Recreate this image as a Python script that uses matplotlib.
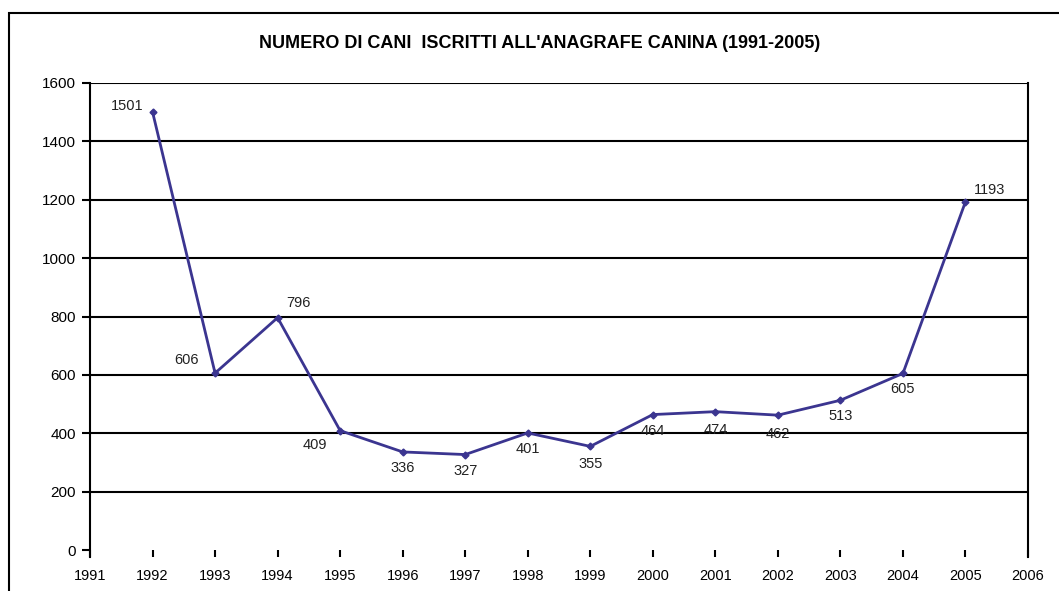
import matplotlib
matplotlib.use("Agg")
import matplotlib.pyplot as plt
from matplotlib.patches import Rectangle

plt.rcParams['font.family'] = ['Liberation Sans', 'DejaVu Sans']

years = [1992, 1993, 1994, 1995, 1996, 1997, 1998, 1999, 2000, 2001, 2002, 2003, 2004, 2005]
dogs = [1501, 606, 796, 409, 336, 327, 401, 355, 464, 474, 462, 513, 605, 1193]
# label offsets in pixels (dx, dy) relative to each point
label_offsets = [(-25, 6), (-29, 13), (21, 15), (-25, -14), (0, -16), (0, -16), (0, -16),
                 (0, -18), (0, -16), (0, -18), (0, -19), (0, -16), (0, -16), (24, 12)]
year_ticks = list(range(1991, 2007))
y_ticks = list(range(0, 1601, 200))

fig = plt.figure(figsize=(10.59, 5.91), dpi=100)

# outer frame, only top and left visible in the reference
frame_top = 1 - 13 / 591
fig.patches.append(Rectangle((9 / 1059, -0.2), 1.2, frame_top + 0.2,
                             transform=fig.transFigure, fill=False, ec='black', lw=1.5))

ax = fig.add_axes([90 / 1059, 1 - 550 / 591, (1028 - 90) / 1059, (550 - 83) / 591])
ax.set_xlim(1991, 2006)
ax.set_ylim(0, 1600)

for y in y_ticks[1:]:
    ax.axhline(y, color='black', lw=1.5, zorder=1)

ax.plot(years, dogs, color='#3b3590', lw=2, marker='D', markersize=3.5, zorder=3)

for x, y, (dx, dy) in zip(years, dogs, label_offsets):
    ax.annotate(str(y), (x, y), xytext=(dx, dy), textcoords='offset pixels',
                ha='center', va='center', fontsize=10.5, color='#222222')

ax.spines['top'].set_visible(False)
ax.spines['bottom'].set_visible(False)
ax.spines['left'].set_linewidth(1.5)
ax.spines['right'].set_linewidth(1.5)
ax.spines['left'].set_bounds(-25, 1600)
ax.spines['right'].set_bounds(-25, 1600)

ax.set_xticks(year_ticks)
ax.set_xticklabels([str(y) for y in year_ticks], fontsize=10.5)
ax.set_yticks(y_ticks)
ax.set_yticklabels([str(y) for y in y_ticks], fontsize=11)
ax.tick_params(axis='x', direction='out', length=5, width=1.5, pad=9)
ax.tick_params(axis='y', direction='out', length=6, width=1.5, pad=4)

fig.text(540 / 1059, 1 - 44 / 591, "NUMERO DI CANI  ISCRITTI ALL'ANAGRAFE CANINA (1991-2005)",
         ha='center', va='center', fontsize=13, fontweight='bold')

fig.savefig("out.png", dpi=100)
